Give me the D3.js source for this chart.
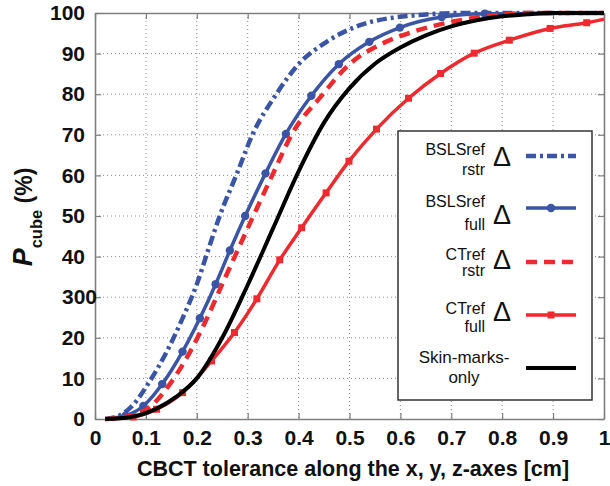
<!DOCTYPE html>
<html>
<head>
<meta charset="utf-8">
<script src="https://cdn.jsdelivr.net/npm/d3@7"></script>
<style>
  body { margin: 0; background: #fff; }
  text { font-family: "Liberation Sans", Arial, Helvetica, sans-serif; }
</style>
</head>
<body>
<div id="chart-area"></div>
<script>
// tick values and labels (the "300" is how the original prints it)
const xTicks = [0, 0.1, 0.2, 0.3, 0.4, 0.5, 0.6, 0.7, 0.8, 0.9, 1];
const xTickLabels = ["0", "0.1", "0.2", "0.3", "0.4", "0.5", "0.6", "0.7", "0.8", "0.9", "1"];
const yTicks = [0, 10, 20, 30, 40, 50, 60, 70, 80, 90, 100];
const yTickLabels = ["0", "10", "20", "300", "40", "50", "60", "70", "80", "90", "100"];

// BSLSref rstr (dash-dot blue)
const bslsRstrX = [0.02, 0.05, 0.075, 0.104, 0.141, 0.172, 0.200, 0.222, 0.245, 0.279, 0.31, 0.354, 0.40, 0.455, 0.521, 0.635, 0.72, 1.0];
const bslsRstrY = [0, 1, 3.5, 8.6, 16.6, 24.8, 33.2, 41.5, 50, 60.5, 70.2, 79.6, 87.4, 92.9, 97, 99.5, 100, 100];

// BSLSref full (solid blue, circles)
const bslsFullX = [0.02, 0.06, 0.095, 0.132, 0.172, 0.206, 0.237, 0.265, 0.295, 0.335, 0.375, 0.425, 0.479, 0.539, 0.599, 0.681, 0.766, 1.0];
const bslsFullY = [0, 0.8, 3.2, 8.6, 16.6, 24.8, 33.2, 41.5, 50, 60.5, 70.2, 79.6, 87.4, 92.9, 96.4, 99.0, 99.8, 100];

// CTref rstr (dashed red)
const ctRstrX = [0.02, 0.07, 0.11, 0.147, 0.187, 0.22, 0.25, 0.28, 0.311, 0.35, 0.387, 0.445, 0.50, 0.565, 0.625, 0.704, 0.79, 0.85, 1.0];
const ctRstrY = [0, 0.8, 3.2, 8.6, 16.6, 24.8, 33.2, 41.5, 50, 60.5, 70.2, 79.6, 87.4, 92.5, 95.4, 97.9, 99.5, 100, 100];

// CTref full (solid red, squares)
const ctFullX = [0.02, 0.075, 0.121, 0.172, 0.229, 0.274, 0.318, 0.363, 0.406, 0.454, 0.499, 0.553, 0.616, 0.679, 0.745, 0.814, 0.894, 0.966, 1.0];
const ctFullY = [0, 0.5, 2.4, 6.5, 14.3, 21.3, 29.6, 39.2, 47.1, 55.7, 63.5, 71.4, 79, 85.1, 90.1, 93.3, 96.2, 97.6, 98.5];

// Skin-marks-only (solid black)
const skinX = [0.02, 0.07, 0.12, 0.16, 0.20, 0.25, 0.30, 0.35, 0.40, 0.45, 0.50, 0.55, 0.60, 0.65, 0.70, 0.75, 0.80, 0.85, 0.90, 1.0];
const skinY = [0, 0.5, 2.5, 5.5, 10, 20, 33, 47, 61, 73, 81.5, 87.5, 91.5, 94.5, 96.7, 98.2, 99.2, 99.7, 100, 100];

const legendLine1 = ["BSLSref", "BSLSref", "CTref", "CTref", "Skin-marks-"];
const legendLine2 = ["rstr", "full", "rstr", "full", "only"];

const blue = "#3a55a6";
const red = "#ee2a2e";

// margins
const margin = { left: 95, right: 6, top: 13, bottom: 67 };
const width = 610 - margin.left - margin.right;
const height = 486 - margin.top - margin.bottom;

const svg = d3.select("#chart-area")
  .append("svg")
    .attr("width", 610)
    .attr("height", 486);

const g = svg.append("g")
  .attr("transform", "translate(" + margin.left + ", " + margin.top + ")");

const x = d3.scaleLinear().domain([0, 1]).range([0, width]);
const y = d3.scaleLinear().domain([0, 100]).range([height, 0]);

// dotted grid
g.append("g").selectAll("line")
  .data(xTicks.slice(1, -1))
  .enter().append("line")
    .attr("x1", d => x(d)).attr("x2", d => x(d))
    .attr("y1", 0).attr("y2", height)
    .attr("stroke", "#8c8c8c").attr("stroke-width", 1)
    .attr("stroke-dasharray", "1,3");
g.append("g").selectAll("line")
  .data(yTicks.slice(1, -1))
  .enter().append("line")
    .attr("y1", d => y(d)).attr("y2", d => y(d))
    .attr("x1", 0).attr("x2", width)
    .attr("stroke", "#8c8c8c").attr("stroke-width", 1)
    .attr("stroke-dasharray", "1,3");

// axes (ticks inward, matlab style)
const xAxisCall = d3.axisBottom(x)
  .tickValues(xTicks)
  .tickFormat((d, i) => xTickLabels[i])
  .tickSizeInner(-6).tickSizeOuter(0).tickPadding(11);
const xAxis = g.append("g")
  .attr("transform", "translate(0," + height + ")")
  .call(xAxisCall);

const yAxisCall = d3.axisLeft(y)
  .tickValues(yTicks)
  .tickFormat((d, i) => yTickLabels[i])
  .tickSizeInner(-6).tickSizeOuter(0).tickPadding(10);
const yAxis = g.append("g").call(yAxisCall);

const topAxis = g.append("g")
  .call(d3.axisTop(x).tickValues(xTicks).tickFormat("").tickSizeInner(-6).tickSizeOuter(0));
const rightAxis = g.append("g")
  .attr("transform", "translate(" + width + ",0)")
  .call(d3.axisRight(y).tickValues(yTicks).tickFormat("").tickSizeInner(-6).tickSizeOuter(0));

[xAxis, yAxis, topAxis, rightAxis].forEach(a => {
  a.select(".domain").attr("stroke", "#7f7f7f").attr("stroke-width", 1.6);
  a.selectAll(".tick line").attr("stroke", "#7f7f7f").attr("stroke-width", 1.2);
  a.selectAll("text")
    .attr("font-size", "21px")
    .attr("font-weight", "bold")
    .attr("fill", "#111");
});
// the "300" label hangs over the axis in the original
yAxis.selectAll(".tick text")
  .attr("dx", (d, i) => yTickLabels[i].length > String(d).length ? 12 : 0);

// curves
const line = d3.line()
  .x(d => x(d[0]))
  .y(d => y(d[1]))
  .curve(d3.curveMonotoneX);

const zip = (xs, ys) => xs.map((v, i) => [v, ys[i]]);

const series = [
  { pts: zip(bslsRstrX, bslsRstrY), color: blue, width: 4.5, dash: "10,4,3,4", marker: null },
  { pts: zip(bslsFullX, bslsFullY), color: blue, width: 3.5, dash: null, marker: "circle" },
  { pts: zip(ctRstrX, ctRstrY), color: red, width: 4.5, dash: "11,7", marker: null },
  { pts: zip(ctFullX, ctFullY), color: red, width: 3.5, dash: null, marker: "square" },
  { pts: zip(skinX, skinY), color: "#000", width: 4, dash: null, marker: null }
];

series.forEach(s => {
  g.append("path")
    .datum(s.pts)
    .attr("fill", "none")
    .attr("stroke", s.color)
    .attr("stroke-width", s.width)
    .attr("stroke-dasharray", s.dash)
    .attr("d", line);

  const markerPts = s.pts.slice(1, -1);
  if (s.marker === "circle") {
    g.append("g").selectAll("circle")
      .data(markerPts)
      .enter().append("circle")
        .attr("cx", d => x(d[0]))
        .attr("cy", d => y(d[1]))
        .attr("r", 4.2)
        .attr("fill", s.color);
  } else if (s.marker === "square") {
    g.append("g").selectAll("rect")
      .data(markerPts)
      .enter().append("rect")
        .attr("x", d => x(d[0]) - 3.5)
        .attr("y", d => y(d[1]) - 3.5)
        .attr("width", 7).attr("height", 7)
        .attr("fill", s.color);
  }
});

// axis labels
svg.append("text")
  .attr("x", 353)
  .attr("y", 476)
  .attr("text-anchor", "middle")
  .attr("font-size", "21.5px")
  .attr("font-weight", "bold")
  .attr("fill", "#111")
  .text("CBCT tolerance along the x, y, z-axes [cm]");

const yLabel = svg.append("text")
  .attr("transform", "translate(32, 217) rotate(-90)")
  .attr("text-anchor", "middle")
  .attr("font-weight", "bold")
  .attr("fill", "#111");
yLabel.append("tspan").attr("font-size", "27px").attr("font-style", "italic").text("P");
yLabel.append("tspan").attr("font-size", "16.5px").attr("dy", 10).text("cube");
yLabel.append("tspan").attr("font-size", "23px").attr("dy", -10).text(" (%)");

// legend
const legend = svg.append("g");
legend.append("rect")
  .attr("x", 398).attr("y", 131)
  .attr("width", 194).attr("height", 269)
  .attr("fill", "#fff")
  .attr("stroke", "#333")
  .attr("stroke-width", 1.5);

const legendRows = [
  { l1: 155, l2: 175, delta: 166, ly: 156 },
  { l1: 207, l2: 230, delta: 224, ly: 208 },
  { l1: 260, l2: 276, delta: 269, ly: 262 },
  { l1: 314, l2: 332, delta: 321, ly: 315 },
  { l1: 363, l2: 383, delta: null, ly: 368 }
];

legendRows.forEach((r, i) => {
  const s = series[i];
  const isLast = r.delta === null;
  const tx = isLast ? 464 : 485;
  const anchor = isLast ? "middle" : "end";
  const fs = isLast ? "17px" : "16px";
  legend.append("text")
    .attr("x", tx).attr("y", r.l1)
    .attr("text-anchor", anchor).attr("font-size", fs).attr("fill", "#111")
    .text(legendLine1[i]);
  legend.append("text")
    .attr("x", tx).attr("y", r.l2)
    .attr("text-anchor", anchor).attr("font-size", fs).attr("fill", "#111")
    .text(legendLine2[i]);
  if (!isLast) {
    legend.append("text")
      .attr("x", 502).attr("y", r.delta)
      .attr("text-anchor", "middle")
      .attr("font-family", "DejaVu Sans")
      .attr("font-size", "27px").attr("fill", "#111")
      .text("\u0394");
  }
  legend.append("line")
    .attr("x1", 526).attr("x2", 576)
    .attr("y1", r.ly).attr("y2", r.ly)
    .attr("stroke", s.color)
    .attr("stroke-width", s.width)
    .attr("stroke-dasharray", s.dash);
  if (s.marker === "circle") {
    legend.append("circle").attr("cx", 551).attr("cy", r.ly).attr("r", 4.2).attr("fill", s.color);
  } else if (s.marker === "square") {
    legend.append("rect").attr("x", 547.5).attr("y", r.ly - 3.5).attr("width", 7).attr("height", 7).attr("fill", s.color);
  }
});
</script>
</body>
</html>
